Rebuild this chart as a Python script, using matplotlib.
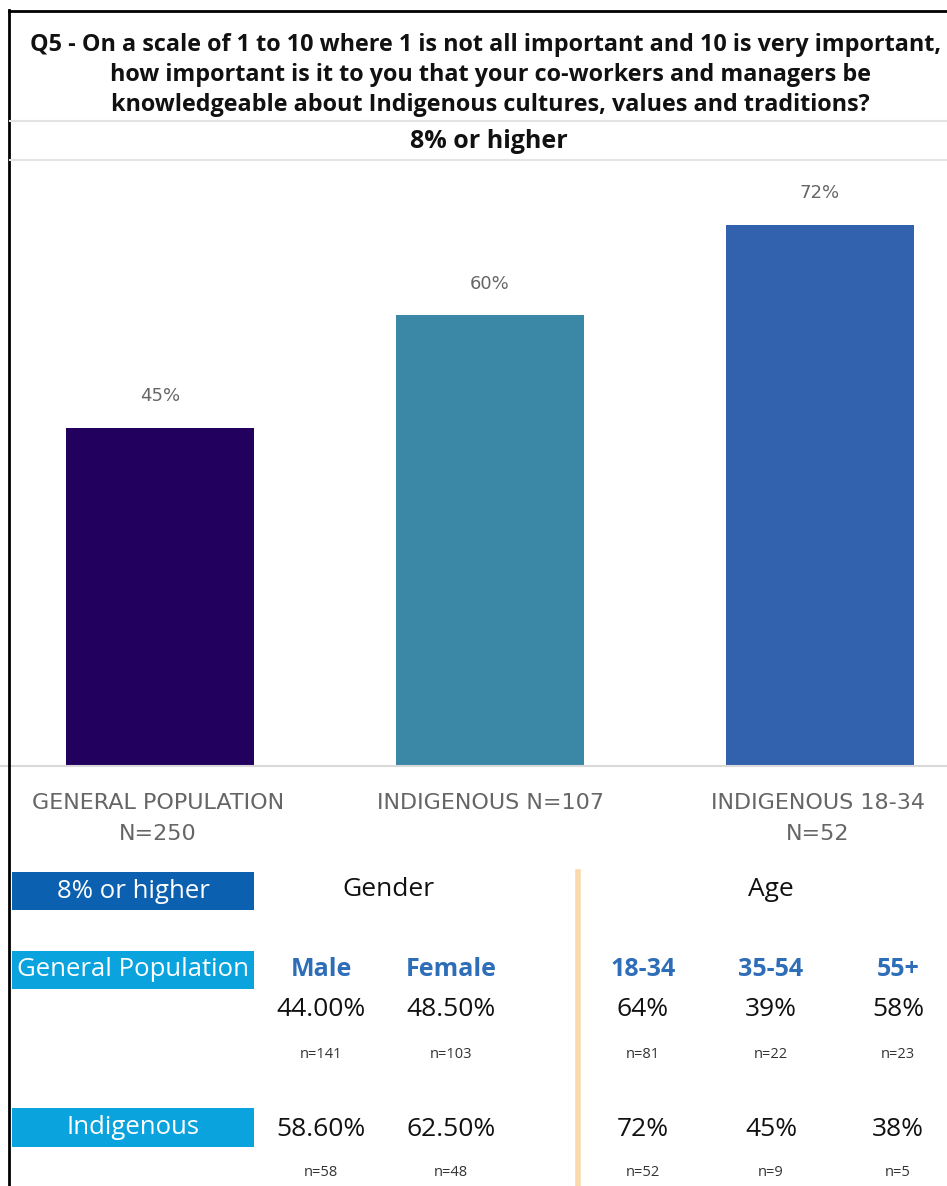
import matplotlib
matplotlib.use("Agg")
import matplotlib.pyplot as plt
from matplotlib.patches import Rectangle
from matplotlib.lines import Line2D

# ---------------- data ----------------
categories = ["GENERAL POPULATION\nN=250", "INDIGENOUS N=107", "INDIGENOUS 18-34\nN=52"]
values = [45, 60, 72]
bar_colors = ["#21005E", "#3A87A6", "#3262AD"]

title_lines = [
    "Q5 - On a scale of 1 to 10 where 1 is not all important and 10 is very important,",
    "how important is it to you that your co-workers and managers be",
    "knowledgeable about Indigenous cultures, values and traditions?",
]
subtitle = "8% or higher"

table_header = "8% or higher"
group_labels = ["Gender", "Age"]
col_labels = ["Male", "Female", "18-34", "35-54", "55+"]
row_labels = ["General Population", "Indigenous"]
gp_values = ["44.00%", "48.50%", "64%", "39%", "58%"]
gp_n = ["n=141", "n=103", "n=81", "n=22", "n=23"]
ind_values = ["58.60%", "62.50%", "72%", "45%", "38%"]
ind_n = ["n=58", "n=48", "n=52", "n=9", "n=5"]

# ---------------- figure ----------------
W, H = 947, 1186
fig = plt.figure(figsize=(W / 100, H / 100), dpi=100)
fig.patch.set_facecolor("white")

MAIN = ["Open Sans", "DejaVu Sans"]
WIDE = ["DejaVu Sans"]

def fx(px):
    return px / W

def fy(py):
    return 1 - py / H

# outer border (left and top)
fig.add_artist(Line2D([fx(8.5), fx(8.5)], [fy(10), fy(H)], color="black", lw=2, transform=fig.transFigure))
fig.add_artist(Line2D([fx(8.5), fx(W)], [fy(10.5), fy(10.5)], color="black", lw=2, transform=fig.transFigure))

# title
ty = [45, 75, 105]
tx = [486, 490, 490]
for t, y, x in zip(title_lines, ty, tx):
    fig.text(fx(x), fy(y), t, ha="center", va="center", fontsize=16.8, fontweight="bold",
             family=MAIN, color="#111111")
fig.text(fx(489), fy(141), subtitle, ha="center", va="center", fontsize=18, fontweight="bold",
         family=MAIN, color="#111111")
for yy in (121, 160):
    fig.add_artist(Line2D([fx(10), fx(W)], [fy(yy), fy(yy)], color="#E3E3E3", lw=1.5,
                          transform=fig.transFigure))

# ---------------- bar chart ----------------
px_per_unit = 330.0
x0_px = 160.0
ax_top_px, ax_bot_px = 165, 766
ax = fig.add_axes([0, fy(ax_bot_px), 1, (ax_bot_px - ax_top_px) / H])
ax.set_xlim(-x0_px / px_per_unit, (W - x0_px) / px_per_unit)
px_per_pct = 7.52
ax.set_ylim(0, (ax_bot_px - ax_top_px) / px_per_pct)
xs = list(range(len(values)))
bars = ax.bar(xs, values, width=188 / px_per_unit, color=bar_colors)
for x, v in zip(xs, values):
    ax.annotate(f"{v}%", (x, v), xytext=(0, 16), textcoords="offset points",
                ha="center", va="bottom", fontsize=13, color="#666666", family=WIDE)
ax.set_axis_off()
ax.axhline(0, color="#D9D9D9", lw=1.5, clip_on=False)

# category labels
lab_x = [158, 490, 818]
for x, lab in zip(lab_x, categories):
    fig.text(fx(x), fy(793), lab, ha="center", va="top", fontsize=16, color="#666666",
             family=WIDE, linespacing=1.7)

# ---------------- table ----------------
def box(x0, y0, x1, y1, color, text, size):
    fig.add_artist(Rectangle((fx(x0), fy(y1)), fx(x1) - fx(x0), fy(y0) - fy(y1),
                             transform=fig.transFigure, facecolor=color, edgecolor="none"))
    fig.text(fx((x0 + x1) / 2), fy((y0 + y1) / 2), text, ha="center", va="center",
             fontsize=size, color="white", family=MAIN)

box(12, 872, 254, 910, "#0B60B0", table_header, 18.5)
box(12, 951, 254, 989, "#0AA3DE", row_labels[0], 18.5)
box(12, 1108, 254, 1147, "#0AA3DE", row_labels[1], 18.5)

fig.text(fx(388), fy(889), group_labels[0], ha="center", va="center", fontsize=19,
         family=MAIN, color="#111111")
fig.text(fx(771), fy(889), group_labels[1], ha="center", va="center", fontsize=19,
         family=MAIN, color="#111111")

fig.add_artist(Line2D([fx(577.5), fx(577.5)], [fy(872), fy(H)], color="#F9D9AE", lw=4,
                      transform=fig.transFigure))

col_x = [321, 451, 643, 771, 898]
for x, c, v1, n1, v2, n2 in zip(col_x, col_labels, gp_values, gp_n, ind_values, ind_n):
    fig.text(fx(x), fy(970), c, ha="center", va="center", fontsize=18, fontweight="bold",
             family=MAIN, color="#2E6DB8")
    fig.text(fx(x), fy(1010), v1, ha="center", va="center", fontsize=19,
             family=MAIN, color="#111111")
    fig.text(fx(x), fy(1054), n1, ha="center", va="center", fontsize=10.5,
             family=MAIN, color="#333333")
    fig.text(fx(x), fy(1129), v2, ha="center", va="center", fontsize=19,
             family=MAIN, color="#111111")
    fig.text(fx(x), fy(1173), n2, ha="center", va="center", fontsize=10.5,
             family=MAIN, color="#333333")

fig.savefig("out.png", dpi=100, facecolor="white")
